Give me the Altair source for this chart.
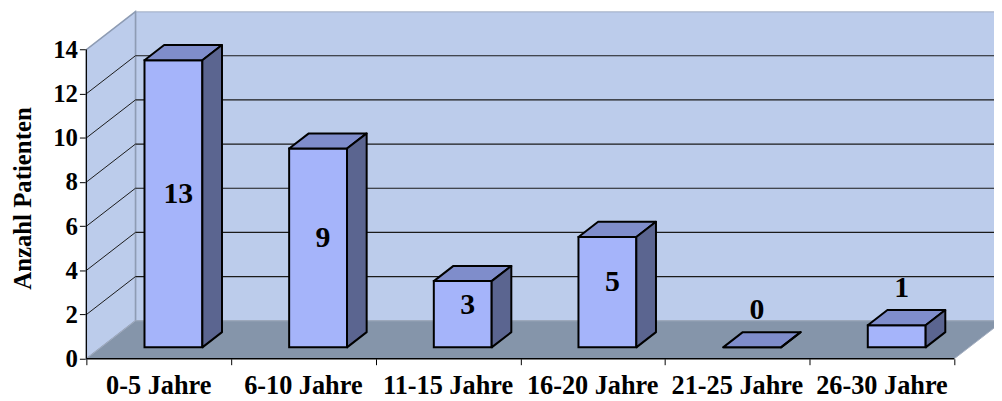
import altair as alt
import pandas as pd

# ---- data ----
categories = ["0-5 Jahre", "6-10 Jahre", "11-15 Jahre", "16-20 Jahre", "21-25 Jahre", "26-30 Jahre"]
patients = [13, 9, 3, 5, 0, 1]
y_ticks = [0, 2, 4, 6, 8, 10, 12, 14]
y_title = "Anzahl Patienten"

# ---- layout constants (pseudo-3D projection) ----
W, H = 915, 350
n = len(categories)
y_max = y_ticks[-1]
PXU = 875 / n                 # px per category on the front plane
XMAX = W / PXU
DX = 49.5 / PXU               # depth shift in category units
DY = 38.3 * y_max / (H - 38.3)  # depth shift in value units
BW = 0.4                      # bar width (gap width 150%)
D0, D1 = 0.3, 0.7             # bar depth extent

FONT = "Liberation Serif"
WALL = "#BCCCEB"
FLOOR = "#8595AA"
EDGE = "#8E9CB4"
FRONT = "#A5B4FA"
TOP = "#7F8DCB"
SIDE = "#5B6590"

xs = alt.Scale(domain=[0, XMAX], nice=False, zero=False)
ys = alt.Scale(domain=[0, y_max + DY], nice=False, zero=False)

x_axis = alt.Axis(values=list(range(n + 1)), labels=False, domain=False, grid=False,
                  tickSize=6, tickColor="black", tickWidth=1, title=None)
y_axis = alt.Axis(values=y_ticks, domain=False, grid=False, tickSize=7, tickColor="black",
                  tickWidth=1, labelPadding=2, labelFont=FONT, labelFontSize=25,
                  labelFontWeight="bold", labelColor="black",
                  title=y_title, titleFont=FONT, titleFontSize=25, titleFontWeight="bold",
                  titleColor="black", titleX=-64, titleY=188, titleAlign="center",
                  titleBaseline="middle", titleAngle=270)


def X(field="x"):
    return alt.X(f"{field}:Q", scale=xs, axis=x_axis)


def Y(field="y"):
    return alt.Y(f"{field}:Q", scale=ys, axis=y_axis)


# ---- derived tables ----
back_df = pd.DataFrame({"x": [DX], "x2": [n + DX], "y": [DY], "y2": [y_max + DY]})
left_df = pd.DataFrame({"x": [0, DX], "y": [0, DY], "y2": [y_max, y_max + DY]})
floor_df = pd.DataFrame({"y": [0, DY], "x": [0, DX], "x2": [n, n + DX]})
inner = y_ticks[1:-1]
grid_df = pd.DataFrame({"x": [DX] * len(inner), "x2": [n + DX] * len(inner),
                        "y": [t + DY for t in inner]})
diag_df = pd.DataFrame({"x": [0] * len(inner), "x2": [DX] * len(inner),
                        "y": inner, "y2": [t + DY for t in inner]})
yaxis_df = pd.DataFrame({"x": [0], "y": [0], "y2": [y_max]})
xaxis_df = pd.DataFrame({"x": [0], "x2": [n], "y": [0]})
cat_df = pd.DataFrame({"x": [i + 0.5 for i in range(n)], "y": [0] * n, "label": categories})

front_rows, top_rows, side_rows, lab_rows = [], [], [], []
for i, v in enumerate(patients):
    l, r = i + 0.5 - BW / 2, i + 0.5 + BW / 2
    front_rows.append({"bar": i, "x": l + D0 * DX, "x2": r + D0 * DX,
                       "y": D0 * DY, "y2": v + D0 * DY})
    for d in (D0, D1):
        top_rows.append({"bar": i, "y": v + d * DY, "x": l + d * DX, "x2": r + d * DX})
        side_rows.append({"bar": i, "x": r + d * DX, "y": d * DY, "y2": v + d * DY})
    inside = v >= 2
    lab_rows.append({"bar": i, "label": str(v), "x": i + 0.5 + 0.4 * DX,
                     "y": (v / 2 + 0.95) if inside else (v + 2.2)})
front_df = pd.DataFrame(front_rows)
top_df = pd.DataFrame(top_rows)
side_df = pd.DataFrame(side_rows)
lab_df = pd.DataFrame(lab_rows)

# ---- layers ----
back = alt.Chart(back_df).mark_rect(fill=WALL, stroke=EDGE, strokeWidth=1.5, clip=True).encode(
    x=X(), x2="x2:Q", y=Y(), y2="y2:Q")

left = alt.Chart(left_df).mark_area(orient="vertical", fill=WALL, stroke=EDGE,
                                    strokeWidth=1.5).encode(x=X(), y=Y(), y2="y2:Q")

floor = alt.Chart(floor_df).mark_area(orient="horizontal", fill=FLOOR, stroke="#A3ADBF",
                                      strokeWidth=1, clip=True).encode(y=Y(), x=X(), x2="x2:Q")

grid = alt.Chart(grid_df).mark_rule(color="#1a1a1a", strokeWidth=1.2, clip=True).encode(
    x=X(), x2="x2:Q", y=Y())

diag = alt.Chart(diag_df).mark_rule(color="#1a1a1a", strokeWidth=1).encode(
    x=X(), x2="x2:Q", y=Y(), y2="y2:Q")

yaxis = alt.Chart(yaxis_df).mark_rule(color="black", strokeWidth=1.2).encode(
    x=X(), y=Y(), y2="y2:Q")
xaxis = alt.Chart(xaxis_df).mark_rule(color="black", strokeWidth=1.5).encode(
    x=X(), x2="x2:Q", y=Y())

front = alt.Chart(front_df).mark_rect(fill=FRONT, stroke="black", strokeWidth=2).encode(
    x=X(), x2="x2:Q", y=Y(), y2="y2:Q")
top = alt.Chart(top_df).mark_area(orient="horizontal", fill=TOP, stroke="black",
                                  strokeWidth=2, strokeJoin="round").encode(
    y=Y(), x=X(), x2="x2:Q", detail="bar:N")
side = alt.Chart(side_df).mark_area(orient="vertical", fill=SIDE, stroke="black",
                                    strokeWidth=2, strokeJoin="round").encode(
    x=X(), y=Y(), y2="y2:Q", detail="bar:N")
labels = alt.Chart(lab_df).mark_text(font=FONT, fontSize=30, fontWeight="bold",
                                     color="black", baseline="middle", align="center").encode(
    x=X(), y=Y(), text="label:N")
cats = alt.Chart(cat_df).mark_text(font=FONT, fontSize=26.5, fontWeight="bold", color="black",
                                   baseline="middle", align="center", dy=28).encode(
    x=X(), y=Y(), text="label:N")

chart = alt.layer(back, left, floor, grid, diag, yaxis, xaxis, front, top, side, labels, cats).properties(
    width=W, height=H,
    autosize=alt.AutoSizeParams(type="none"),
    padding={"left": 79, "top": 2, "right": 0, "bottom": 40},
    background="white",
).configure_view(stroke=None)

chart.save("out.html", embed_options={"renderer": "svg", "actions": False})
